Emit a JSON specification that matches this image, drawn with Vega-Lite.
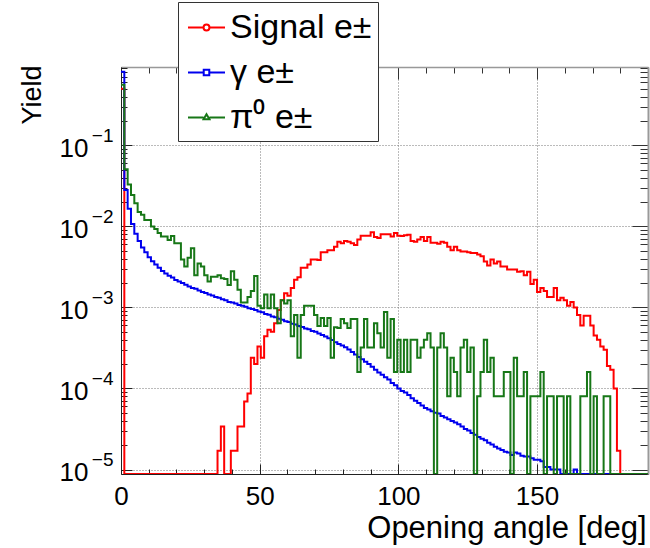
{
"$schema": "https://vega.github.io/schema/vega-lite/v6.json",
"width": 527, "height": 407,
"autosize": {"type": "none"},
"padding": {"left": 121, "top": 67, "right": 2, "bottom": 74},
"background": "white",
"config": {"view": {"stroke": null}, "font": "Liberation Sans"},
"data": {"values": [
{"a":0,"r":0.5,"b":0.813,"g":0.56},
{"a":1.2,"r":8.8e-6,"b":0.0282,"g":0.051},
{"a":2.4,"r":8.8e-6,"b":0.0166,"g":0.033},
{"a":3.6,"r":8.8e-6,"b":0.0107,"g":0.0245},
{"a":4.8,"r":8.8e-6,"b":0.00813,"g":0.0194},
{"a":6,"r":8.8e-6,"b":0.00661,"g":0.0151},
{"a":7.2,"r":8.8e-6,"b":0.0055,"g":0.014},
{"a":8.4,"r":8.8e-6,"b":0.00479,"g":0.012},
{"a":9.6,"r":8.8e-6,"b":0.00417,"g":0.012},
{"a":10.8,"r":8.8e-6,"b":0.00372,"g":0.01},
{"a":12,"r":8.8e-6,"b":0.00339,"g":0.0093},
{"a":13.2,"r":8.8e-6,"b":0.00309,"g":0.0083},
{"a":14.4,"r":8.8e-6,"b":0.00282,"g":0.0075},
{"a":15.6,"r":8.8e-6,"b":0.00263,"g":0.0075},
{"a":16.8,"r":8.8e-6,"b":0.00246,"g":0.0068},
{"a":18,"r":8.8e-6,"b":0.00234,"g":0.0076},
{"a":19.2,"r":8.8e-6,"b":0.00219,"g":0.0062},
{"a":20.4,"r":8.8e-6,"b":0.00209,"g":0.0062},
{"a":21.6,"r":8.8e-6,"b":0.002,"g":0.0039},
{"a":22.8,"r":8.8e-6,"b":0.00191,"g":0.0032},
{"a":24,"r":8.8e-6,"b":0.00182,"g":0.0041},
{"a":25.2,"r":8.8e-6,"b":0.00174,"g":0.0054},
{"a":26.4,"r":8.8e-6,"b":0.0017,"g":0.0025},
{"a":27.6,"r":8.8e-6,"b":0.00162,"g":0.0035},
{"a":28.8,"r":8.8e-6,"b":0.00155,"g":0.0032},
{"a":30,"r":8.8e-6,"b":0.00151,"g":0.0025},
{"a":31.2,"r":8.8e-6,"b":0.00145,"g":0.0021},
{"a":32.4,"r":8.8e-6,"b":0.00141,"g":0.0024},
{"a":33.6,"r":8.8e-6,"b":0.00135,"g":0.0024},
{"a":34.8,"r":1.7e-5,"b":0.00132,"g":0.0025},
{"a":36,"r":3.4e-5,"b":0.00126,"g":0.0023},
{"a":37.2,"r":8.8e-6,"b":0.00123,"g":0.00224},
{"a":38.4,"r":8.8e-6,"b":0.00117,"g":0.0019},
{"a":39.6,"r":1.7e-5,"b":0.00115,"g":0.0028},
{"a":40.8,"r":1.7e-5,"b":0.00112,"g":0.0022},
{"a":42,"r":3.4e-5,"b":0.00107,"g":0.00166},
{"a":43.2,"r":3.4e-5,"b":0.00105,"g":0.00115},
{"a":44.4,"r":6.9e-5,"b":0.00102,"g":0.00115},
{"a":45.6,"r":8.7e-5,"b":0.000977,"g":0.00135},
{"a":46.8,"r":0.00024,"b":0.000955,"g":0.0016},
{"a":48,"r":0.0002,"b":0.000933,"g":0.00245},
{"a":49.2,"r":0.00033,"b":0.000891,"g":0.00105},
{"a":50.4,"r":0.00024,"b":0.000871,"g":0.00098},
{"a":51.6,"r":0.00044,"b":0.000832,"g":0.00145},
{"a":52.8,"r":0.00053,"b":0.000813,"g":0.00098},
{"a":54,"r":0.0005,"b":0.000776,"g":0.00145},
{"a":55.2,"r":0.00064,"b":0.000759,"g":0.00098},
{"a":56.4,"r":0.00093,"b":0.000724,"g":0.00064},
{"a":57.6,"r":0.00123,"b":0.000708,"g":0.00123},
{"a":58.8,"r":0.0015,"b":0.000676,"g":0.00112},
{"a":60,"r":0.0014,"b":0.000661,"g":0.00123},
{"a":61.2,"r":0.00174,"b":0.000631,"g":0.00044},
{"a":62.4,"r":0.0022,"b":0.000617,"g":0.00081},
{"a":63.6,"r":0.00236,"b":0.000589,"g":0.00024},
{"a":64.8,"r":0.0031,"b":0.000575,"g":0.00081},
{"a":66,"r":0.0031,"b":0.00055,"g":0.00105},
{"a":67.2,"r":0.0034,"b":0.000537,"g":0.00105},
{"a":68.4,"r":0.0039,"b":0.000513,"g":0.00105},
{"a":69.6,"r":0.0039,"b":0.000501,"g":0.00081},
{"a":70.8,"r":0.00385,"b":0.000479,"g":0.00059},
{"a":72,"r":0.0048,"b":0.000457,"g":0.00074},
{"a":73.2,"r":0.0048,"b":0.000437,"g":0.00059},
{"a":74.4,"r":0.0051,"b":0.000417,"g":0.00074},
{"a":75.6,"r":0.0051,"b":0.000398,"g":0.00024},
{"a":76.8,"r":0.0056,"b":0.000372,"g":0.00057},
{"a":78,"r":0.0065,"b":0.000355,"g":0.00056},
{"a":79.2,"r":0.0062,"b":0.000339,"g":0.00072},
{"a":80.4,"r":0.0066,"b":0.000324,"g":0.00064},
{"a":81.6,"r":0.0065,"b":0.000302,"g":0.00056},
{"a":82.8,"r":0.0062,"b":0.000282,"g":0.00072},
{"a":84,"r":0.0059,"b":0.000263,"g":0.00072},
{"a":85.2,"r":0.0069,"b":0.000245,"g":0.00016},
{"a":86.4,"r":0.0077,"b":0.000229,"g":0.00032},
{"a":87.6,"r":0.0077,"b":0.000214,"g":0.00072},
{"a":88.8,"r":0.0077,"b":0.0002,"g":0.00032},
{"a":90,"r":0.0085,"b":0.000186,"g":0.00032},
{"a":91.2,"r":0.0074,"b":0.00017,"g":0.00064},
{"a":92.4,"r":0.0072,"b":0.000158,"g":0.00048},
{"a":93.6,"r":0.008,"b":0.000148,"g":0.00032},
{"a":94.8,"r":0.008,"b":0.000138,"g":0.00088},
{"a":96,"r":0.008,"b":0.000129,"g":0.00024},
{"a":97.2,"r":0.0075,"b":0.000117,"g":0.00072},
{"a":98.4,"r":0.0083,"b":0.00011,"g":0.00016},
{"a":99.6,"r":0.0077,"b":0.0001,"g":0.0004},
{"a":100.8,"r":0.0076,"b":9.33e-5,"g":0.00016},
{"a":102,"r":0.0078,"b":8.91e-5,"g":0.0004},
{"a":103.2,"r":0.0079,"b":8.32e-5,"g":0.00016},
{"a":104.4,"r":0.0066,"b":7.59e-5,"g":0.0004},
{"a":105.6,"r":0.0065,"b":7.08e-5,"g":0.0004},
{"a":106.8,"r":0.0069,"b":6.61e-5,"g":0.00024},
{"a":108,"r":0.0074,"b":6.17e-5,"g":0.00032},
{"a":109.2,"r":0.0066,"b":5.75e-5,"g":0.0004},
{"a":110.4,"r":0.0074,"b":5.5e-5,"g":0.00048},
{"a":111.6,"r":0.0063,"b":5.25e-5,"g":0.00032},
{"a":112.8,"r":0.0063,"b":5.01e-5,"g":8.8e-6},
{"a":114,"r":0.0061,"b":4.9e-5,"g":0.00032},
{"a":115.2,"r":0.0065,"b":4.57e-5,"g":0.00048},
{"a":116.4,"r":0.0063,"b":4.37e-5,"g":0.00032},
{"a":117.6,"r":0.0056,"b":4.17e-5,"g":8e-5},
{"a":118.8,"r":0.0051,"b":3.98e-5,"g":0.00024},
{"a":120,"r":0.0056,"b":3.8e-5,"g":0.00016},
{"a":121.2,"r":0.0051,"b":3.63e-5,"g":8e-5},
{"a":122.4,"r":0.0049,"b":3.39e-5,"g":0.00032},
{"a":123.6,"r":0.0049,"b":3.16e-5,"g":0.0004},
{"a":124.8,"r":0.0048,"b":3.02e-5,"g":0.00016},
{"a":126,"r":0.0047,"b":2.82e-5,"g":0.00032},
{"a":127.2,"r":0.0047,"b":2.69e-5,"g":8.8e-6},
{"a":128.4,"r":0.0045,"b":2.51e-5,"g":8e-5},
{"a":129.6,"r":0.0043,"b":2.4e-5,"g":0.00016},
{"a":130.8,"r":0.0037,"b":2.29e-5,"g":0.0004},
{"a":132,"r":0.0033,"b":2.14e-5,"g":0.00016},
{"a":133.2,"r":0.0039,"b":2.04e-5,"g":0.00024},
{"a":134.4,"r":0.0035,"b":1.91e-5,"g":8e-5},
{"a":135.6,"r":0.0037,"b":1.82e-5,"g":8e-5},
{"a":136.8,"r":0.0032,"b":1.74e-5,"g":8e-5},
{"a":138,"r":0.0032,"b":1.66e-5,"g":0.00016},
{"a":139.2,"r":0.00295,"b":1.62e-5,"g":0.00016},
{"a":140.4,"r":0.00295,"b":1.51e-5,"g":8.8e-6},
{"a":141.6,"r":0.00295,"b":1.62e-5,"g":0.00024},
{"a":142.8,"r":0.00276,"b":1.58e-5,"g":8e-5},
{"a":144,"r":0.0028,"b":1.48e-5,"g":8e-5},
{"a":145.2,"r":0.0025,"b":1.45e-5,"g":0.00016},
{"a":146.4,"r":0.00276,"b":1.45e-5,"g":8.8e-6},
{"a":147.6,"r":0.00195,"b":1.38e-5,"g":8e-5},
{"a":148.8,"r":0.0022,"b":1.32e-5,"g":8e-5},
{"a":150,"r":0.00155,"b":1.32e-5,"g":8e-5},
{"a":151.2,"r":0.00174,"b":1.26e-5,"g":0.00016},
{"a":152.4,"r":0.0016,"b":1.07e-5,"g":8.8e-6},
{"a":153.6,"r":0.00135,"b":1.07e-5,"g":8e-5},
{"a":154.8,"r":0.00135,"b":1e-5,"g":8e-5},
{"a":156,"r":0.00174,"b":1e-5,"g":8.8e-6},
{"a":157.2,"r":0.00123,"b":1e-5,"g":8e-5},
{"a":158.4,"r":0.00132,"b":8.8e-6,"g":8e-5},
{"a":159.6,"r":0.00123,"b":8.8e-6,"g":8.8e-6},
{"a":160.8,"r":0.00105,"b":8.8e-6,"g":8e-5},
{"a":162,"r":0.00117,"b":8.8e-6,"g":8.8e-6},
{"a":163.2,"r":0.001,"b":1e-5,"g":8.8e-6},
{"a":164.4,"r":0.00081,"b":8.8e-6,"g":8.8e-6},
{"a":165.6,"r":0.0006,"b":8.8e-6,"g":8e-5},
{"a":166.8,"r":0.00079,"b":8.8e-6,"g":8e-5},
{"a":168,"r":0.00079,"b":8.8e-6,"g":0.00016},
{"a":169.2,"r":0.0006,"b":8.8e-6,"g":8.8e-6},
{"a":170.4,"r":0.00045,"b":8.8e-6,"g":8e-5},
{"a":171.6,"r":0.0004,"b":8.8e-6,"g":8.8e-6},
{"a":172.8,"r":0.00033,"b":8.8e-6,"g":8.8e-6},
{"a":174,"r":0.0003,"b":8.8e-6,"g":8e-5},
{"a":175.2,"r":0.00019,"b":8.8e-6,"g":8e-5},
{"a":176.4,"r":0.00017,"b":8.8e-6,"g":8.8e-6},
{"a":177.6,"r":0.0001,"b":8.8e-6,"g":8.8e-6},
{"a":178.8,"r":1.7e-5,"b":8.8e-6,"g":8.8e-6},
{"a":180,"r":8.8e-6,"b":8.8e-6,"g":8.8e-6},
{"a":190.8,"r":8.8e-6,"b":8.8e-6,"g":8.8e-6}
]},
"transform": [{"fold": ["r", "b", "g"], "as": ["k", "v"]}],
"resolve": {"axis": {"x": "independent", "y": "independent"}},
"layer": [
{
"mark": {"type": "line", "interpolate": "step-after", "strokeWidth": 2, "clip": true},
"encoding": {
"x": {"field": "a", "type": "quantitative",
 "scale": {"domain": [0, 190], "nice": false, "zero": false},
 "axis": {"orient": "bottom", "values": [0,10,20,30,40,50,60,70,80,90,100,110,120,130,140,150,160,170,180,190],
  "title": "Opening angle [deg]", "titleFontSize": 31, "titleFontWeight": "normal", "titleColor": "#000",
  "titleAnchor": "end", "titleAlign": "right", "titleBaseline": "alphabetic", "titleX": 525, "titleY": 63,
  "labelExpr": "datum.value % 50 === 0 ? datum.label : ''",
  "labelFontSize": 26, "labelColor": "#000", "labelPadding": 19, "labelOverlap": false, "labelFlush": false, "labelBound": false,
  "tickSize": {"condition": {"test": "datum.value % 50 === 0", "value": -10}, "value": -5},
  "tickColor": "#222", "tickWidth": 1,
  "domainColor": "#222", "domainWidth": 1,
  "grid": true, "gridColor": "#777", "gridDash": [1, 2], "gridWidth": 1,
  "gridOpacity": {"condition": {"test": "datum.value % 50 === 0 && datum.value > 0", "value": 1}, "value": 0}
 }},
"y": {"field": "v", "type": "quantitative",
 "scale": {"type": "log", "domain": [8.8e-6, 0.93], "nice": false},
 "axis": {"orient": "left", "values": [1e-5,2e-5,3e-5,4e-5,5e-5,6e-5,7e-5,8e-5,9e-5,1e-4,2e-4,3e-4,4e-4,5e-4,6e-4,7e-4,8e-4,9e-4,0.001,0.002,0.003,0.004,0.005,0.006,0.007,0.008,0.009,0.01,0.02,0.03,0.04,0.05,0.06,0.07,0.08,0.09,0.1,0.2,0.3,0.4,0.5,0.6,0.7,0.8,0.9],
  "title": "Yield", "titleFontSize": 27, "titleFontWeight": "normal", "titleColor": "#000", "titleAngle": 270,
  "titleAnchor": "end", "titleAlign": "right", "titleBaseline": "alphabetic", "titleX": -81, "titleY": -2,
  "labelExpr": "abs(log(datum.value)/LN10 - round(log(datum.value)/LN10)) < 0.001 ? '10' : ''",
  "labelFontSize": 26, "labelColor": "#000", "labelPadding": 44, "labelOffset": 3, "labelOverlap": false, "labelFlush": false, "labelBound": false,
  "tickSize": {"condition": {"test": "abs(log(datum.value)/LN10 - round(log(datum.value)/LN10)) < 0.001", "value": -11}, "value": -6},
  "tickColor": "#222", "tickWidth": 1,
  "domainColor": "#222", "domainWidth": 1,
  "grid": true, "gridColor": "#777", "gridDash": [1, 2], "gridWidth": 1,
  "gridOpacity": {"condition": {"test": "abs(log(datum.value)/LN10 - round(log(datum.value)/LN10)) < 0.001", "value": 1}, "value": 0}
 }},
"color": {"field": "k", "type": "nominal",
 "scale": {"domain": ["r", "b", "g"], "range": ["#ff0000", "#0000ee", "#177717"]},
 "legend": {"orient": "none", "legendX": 57, "legendY": -65, "title": null,
  "labelExpr": "datum.value === 'r' ? 'Signal e±' : datum.value === 'b' ? 'γ e±' : 'π⁰ e±'",
  "labelFontSize": 34, "labelColor": "#000", "labelLimit": 400, "labelOffset": 4,
  "symbolSize": 1369, "symbolStrokeWidth": 2, "symbolOffset": 3,
  "padding": 6, "rowPadding": 8,
  "strokeColor": "#333", "fillColor": "white",
  "encode": {"symbols": {"update": {
   "shape": {"signal": "datum.value === 'r' ? 'M-1,0H-0.16M0.16,0H1M0.16,0A0.16,0.16,0,1,1,-0.16,0A0.16,0.16,0,1,1,0.16,0' : datum.value === 'b' ? 'M-1,0H-0.15M0.15,0H1M-0.15,-0.15H0.15V0.15H-0.15Z' : 'M-1,0H-0.16M0.16,0H1M0,-0.18L0.16,0.1H-0.16Z'"},
   "fill": {"value": "transparent"}}}}
 }}
}
},
{
"mark": {"type": "point", "opacity": 0, "clip": true},
"encoding": {
"x": {"field": "a", "type": "quantitative",
 "scale": {"domain": [0, 190], "nice": false, "zero": false},
 "axis": {"orient": "top", "values": [0,10,20,30,40,50,60,70,80,90,100,110,120,130,140,150,160,170,180,190],
  "labels": false, "title": null, "grid": false,
  "tickSize": {"condition": {"test": "datum.value % 50 === 0", "value": -12}, "value": -6},
  "tickColor": "#333", "tickWidth": 1,
  "domainColor": "#999", "domainWidth": 1.5
 }},
"y": {"field": "v", "type": "quantitative",
 "scale": {"type": "log", "domain": [8.8e-6, 0.93], "nice": false},
 "axis": {"orient": "right", "values": [1e-5,2e-5,3e-5,4e-5,5e-5,6e-5,7e-5,8e-5,9e-5,1e-4,2e-4,3e-4,4e-4,5e-4,6e-4,7e-4,8e-4,9e-4,0.001,0.002,0.003,0.004,0.005,0.006,0.007,0.008,0.009,0.01,0.02,0.03,0.04,0.05,0.06,0.07,0.08,0.09,0.1,0.2,0.3,0.4,0.5,0.6,0.7,0.8,0.9],
  "labels": false, "title": null, "grid": false,
  "tickSize": {"condition": {"test": "abs(log(datum.value)/LN10 - round(log(datum.value)/LN10)) < 0.001", "value": -16}, "value": -8},
  "tickColor": "#333", "tickWidth": 1,
  "domainColor": "#999", "domainWidth": 2
 }}
}
},
{
"mark": {"type": "point", "opacity": 0, "clip": true},
"encoding": {
"x": {"field": "a", "type": "quantitative", "scale": {"domain": [0, 190], "nice": false, "zero": false}, "axis": null},
"y": {"field": "v", "type": "quantitative",
 "scale": {"type": "log", "domain": [8.8e-6, 0.93], "nice": false},
 "axis": {"orient": "left", "values": [1e-5,1e-4,0.001,0.01,0.1],
  "labelExpr": "'−' + round(-log(datum.value)/LN10)",
  "labelFontSize": 19, "labelColor": "#000", "labelPadding": 8, "labelOffset": -10, "labelOverlap": false, "labelFlush": false, "labelBound": false,
  "title": null, "grid": false, "ticks": false, "tickSize": 0, "domain": false
 }}
}
}
]
}
